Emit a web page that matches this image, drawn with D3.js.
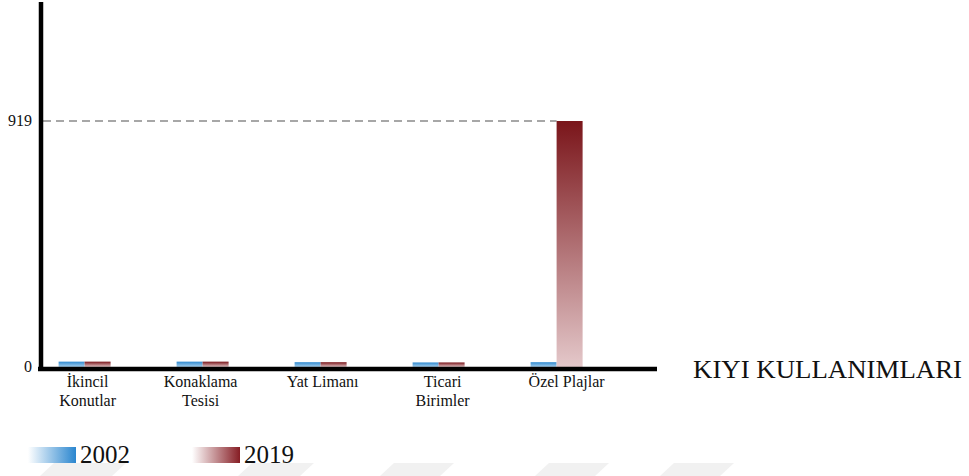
<!DOCTYPE html>
<html>
<head>
<meta charset="utf-8">
<script src="https://cdn.jsdelivr.net/npm/d3@7"></script>
<style>
  html, body { margin: 0; padding: 0; background: #fff; }
  svg { display: block; font-family: "Liberation Serif", "Times New Roman", serif; }
</style>
</head>
<body>
<svg id="chart" width="969" height="476"></svg>
<script>
// Kıyı kullanımları, 2002 ve 2019 karşılaştırması
const categories = [["İkincil", "Konutlar"], ["Konaklama", "Tesisi"], ["Yat Limanı"], ["Ticari", "Birimler"], ["Özel Plajlar"]];
const years = ["2002", "2019"];
const values2002 = [20, 20, 18, 17, 18];
const values2019 = [20, 20, 18, 17, 919];
const yTicks = [0, 919];
const axisTitle = "KIYI KULLANIMLARI";

const svg = d3.select("#chart");
const defs = svg.append("defs");

// vertical gradients for bars (dark at top, pale at bottom)
const barGrad = [
  { id: "bar2002", top: "#2f89cf", bottom: "#a9d2ef" },
  { id: "bar2019", top: "#7a151a", bottom: "#e4c8ca" }
];
barGrad.forEach(g => {
  const lg = defs.append("linearGradient").attr("id", g.id)
    .attr("x1", 0).attr("y1", 0).attr("x2", 0).attr("y2", 1);
  lg.append("stop").attr("offset", "0%").attr("stop-color", g.top);
  lg.append("stop").attr("offset", "100%").attr("stop-color", g.bottom);
});
// horizontal gradients for the legend swatches (fade in from white)
const legGrad = [
  { id: "leg2002", color: "#2a86cf" },
  { id: "leg2019", color: "#861d24" }
];
legGrad.forEach(g => {
  const lg = defs.append("linearGradient").attr("id", g.id)
    .attr("x1", 0).attr("y1", 0).attr("x2", 1).attr("y2", 0);
  lg.append("stop").attr("offset", "0%").attr("stop-color", "#ffffff");
  lg.append("stop").attr("offset", "100%").attr("stop-color", g.color);
});

// faint diagonal watermark bands along the bottom edge
const wm = svg.append("g").attr("fill", "#f1f1f1");
[[40, 112], [238, 300], [380, 440], [535, 595], [660, 720]].forEach(([a, b]) => {
  wm.append("polygon").attr("points", `${a},476 ${a + 14},463 ${b + 14},463 ${b},476`);
});

const baseY = 367;
const topY = 121;
const y = d3.scaleLinear().domain([0, 919]).range([baseY, topY]);

const keys = categories.map(c => c.join(" "));
const x0 = d3.scaleBand().domain(keys).range([25.6, 615.6]).padding(0);
const barW = 26;
const x1 = d3.scaleBand().domain(years)
  .range([x0.bandwidth() / 2 - barW, x0.bandwidth() / 2 + barW]).padding(0);

const series = { "2002": values2002, "2019": values2019 };

// reference dashed line at the maximum
svg.append("line")
  .attr("x1", 43).attr("x2", x0(keys[4]) + x1("2019"))
  .attr("y1", y(919)).attr("y2", y(919))
  .attr("stroke", "#8a8a8a").attr("stroke-width", 1.5)
  .attr("stroke-dasharray", "8,5");

// bars
const groups = svg.append("g").selectAll("g")
  .data(keys).join("g")
  .attr("transform", d => `translate(${x0(d)},0)`);
groups.selectAll("rect")
  .data((d, i) => years.map(yr => ({ yr, v: series[yr][i] })))
  .join("rect")
  .attr("x", d => x1(d.yr))
  .attr("width", x1.bandwidth())
  .attr("y", d => y(d.v))
  .attr("height", d => baseY - y(d.v))
  .attr("fill", d => `url(#bar${d.yr})`);

// axes
svg.append("line").attr("x1", 41).attr("x2", 41).attr("y1", 2).attr("y2", 371)
  .attr("stroke", "#000").attr("stroke-width", 4.5);
svg.append("line").attr("x1", 38).attr("x2", 657).attr("y1", 369).attr("y2", 369)
  .attr("stroke", "#000").attr("stroke-width", 4.5);

// y tick labels
svg.append("g").selectAll("text").data(yTicks).join("text")
  .attr("x", 32).attr("y", d => y(d) + 5)
  .attr("text-anchor", "end")
  .attr("font-size", 16).attr("fill", "#111")
  .text(d => d);

// category labels
const labelShift = [3, -2, 2, 4, 10];
const lab = svg.append("g").selectAll("text").data(categories).join("text")
  .attr("text-anchor", "middle")
  .attr("font-size", 16).attr("fill", "#111")
  .attr("transform", (d, i) => `translate(${x0(keys[i]) + x0.bandwidth() / 2 + labelShift[i]},387)`);
lab.selectAll("tspan").data(d => d).join("tspan")
  .attr("x", 0).attr("dy", (d, j) => j === 0 ? 0 : 19)
  .text(d => d);

// axis title
svg.append("text").attr("x", 693).attr("y", 378)
  .attr("font-size", 25).attr("fill", "#111")
  .attr("textLength", 269).attr("lengthAdjust", "spacingAndGlyphs")
  .text(axisTitle);

// legend
const legend = svg.append("g");
const legX = [28, 192];
years.forEach((yr, i) => {
  legend.append("rect").attr("x", legX[i]).attr("y", 447)
    .attr("width", 48).attr("height", 16)
    .attr("fill", `url(#leg${yr})`);
  legend.append("text").attr("x", legX[i] + 52).attr("y", 463)
    .attr("font-size", 25).attr("fill", "#111")
    .text(yr);
});
</script>
</body>
</html>
